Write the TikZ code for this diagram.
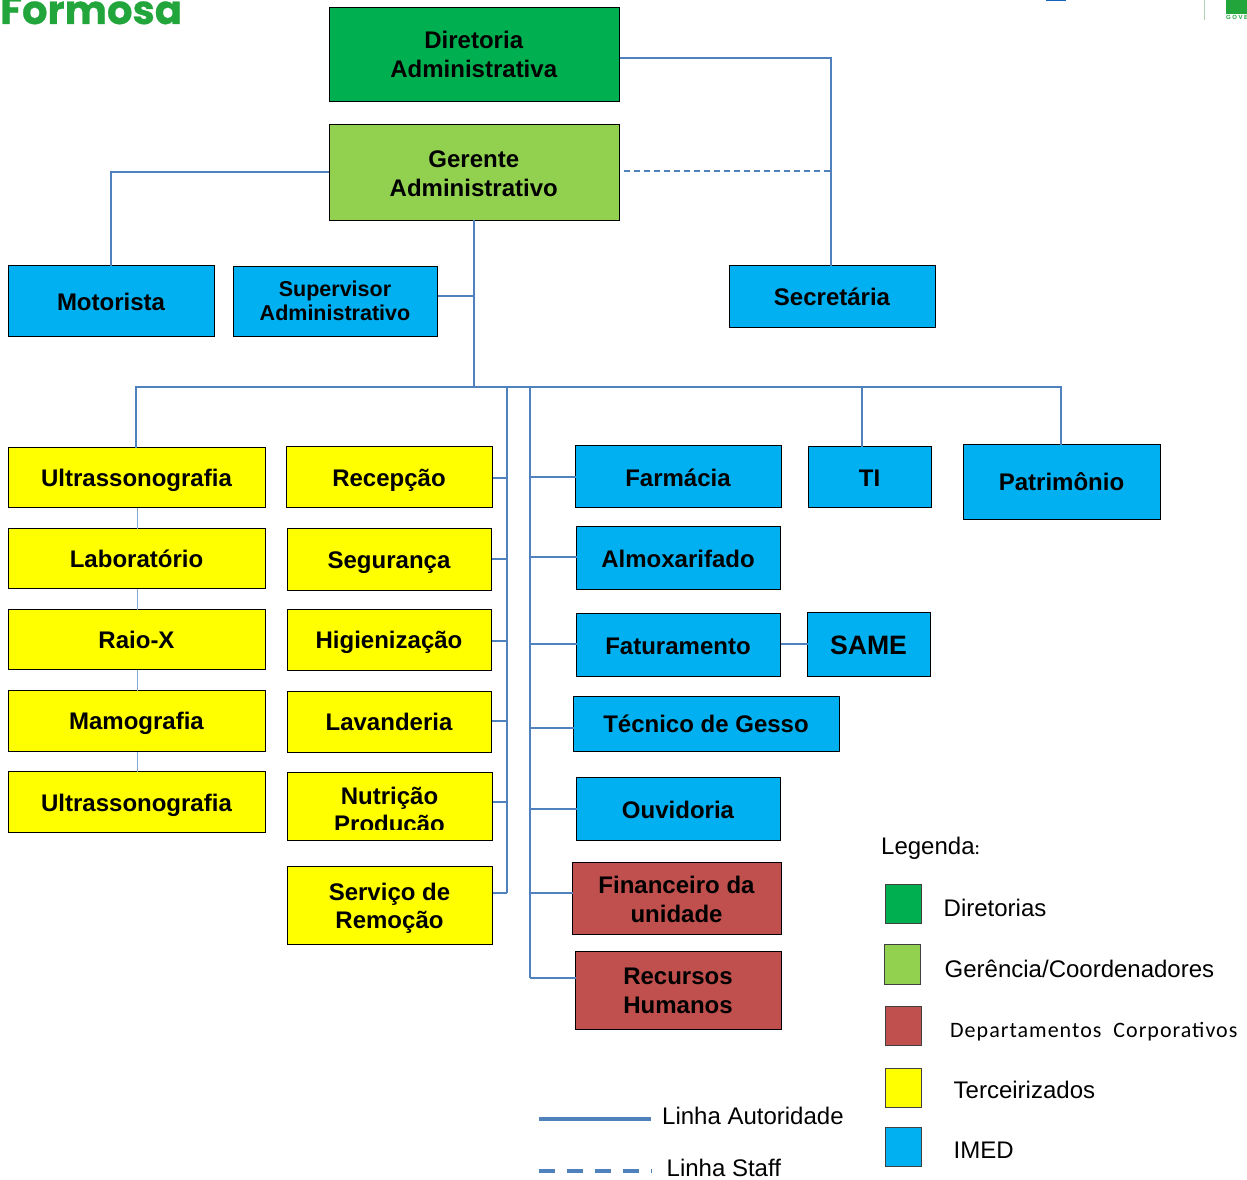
\documentclass[tikz,border=0pt]{standalone}
\usepackage{fontspec}
\setmainfont{Liberation Sans}
\newfontfamily\calfont{Carlito}
\newfontfamily\logofont[FakeBold=0.6]{Poppins}
\definecolor{linec}{HTML}{4F81BD}
\definecolor{imed}{HTML}{00B0F0}
\definecolor{corp}{HTML}{C0504D}
\definecolor{dirc}{HTML}{00B050}
\definecolor{gerc}{HTML}{92D050}
\definecolor{logoc}{HTML}{22A63C}
\definecolor{terc}{HTML}{FFFF00}
\definecolor{logob}{HTML}{1565C0}
\tikzset{
  boxn/.style={draw=black,line width=1pt,inner sep=0pt,outer sep=0pt,align=center,text=black,
    font=\fontsize{24}{28.5}\selectfont\bfseries},
  auth/.style={draw=linec,line width=1.8pt},
  staff/.style={auth,dash pattern=on 6pt off 4pt},
  thinl/.style={draw=linec!70,line width=1.2pt},
  swatch/.style={draw=black!75,line width=0.8pt,inner sep=0pt,outer sep=0pt},
  legt/.style={inner sep=0pt,anchor=base west,font=\fontsize{24}{28}\selectfont},
}
% name, x1, y1, x2, y2, options, text, text shift down
\newcommand{\bxn}[8]{%
  \pgfmathsetmacro{\bw}{#4-#2-1}\pgfmathsetmacro{\bh}{#5-#3}%
  \pgfmathsetmacro{\bcx}{(#2+#4)/2}\pgfmathsetmacro{\bcy}{(#3+#5)/2+0.5}%
  \node[boxn,minimum width=\bw pt,minimum height=\bh pt,#6] (#1) at (\bcx,\bcy) {\hspace*{-1pt}\raisebox{0pt}[\dimexpr\height+#8pt-0.5pt\relax][\dimexpr\depth-#8pt+0.5pt\relax]{\begin{tabular}{@{}c@{}}#7\end{tabular}}};}
\renewcommand{\arraystretch}{1}
\setlength{\tabcolsep}{0pt}
\begin{document}
\begin{tikzpicture}[x=1pt,y=-1pt]
\useasboundingbox (0,0) rectangle (1247,1180);
\begin{scope}
\clip (0,0) rectangle (1247,1180);
\node[inner sep=0pt,anchor=base west,text=logoc,font=\fontsize{40}{40}\selectfont\logofont\bfseries] (logo) at (0,24) {Formosa};
\fill[logob] (1046,0) rectangle (1066,1.5);
\draw[green!40!black!30,line width=1pt] (1204,0) -- (1204,20);
\fill[logoc] (1226,0) rectangle (1247,14);
\node[inner sep=0pt,anchor=base west,text=logoc,font=\fontsize{6}{6}\selectfont\bfseries\addfontfeatures{LetterSpace=25}] (gov) at (1226,20) {GOVE};
\end{scope}

% boxes
\bxn{dir}{328.5}{7}{620}{101}{fill=dirc}{Diretoria\\Administrativa}{3.5}
\bxn{ger}{328.5}{124.5}{620}{219.5}{fill=gerc}{Gerente\\Administrativo}{4.5}
\bxn{mot}{8}{265}{215}{336}{fill=imed}{Motorista}{4}
\bxn{sup}{233}{266}{438}{336}{fill=imed,font=\fontsize{21.5}{24}\selectfont\bfseries}{Supervisor\\Administrativo}{3}
\bxn{sec}{729}{265}{936}{327}{fill=imed}{Secretária}{4}
\bxn{ua}{8}{447}{266}{507}{fill=terc}{Ultrassonografia}{4}
\bxn{lab}{8}{528}{266}{588}{fill=terc}{Laboratório}{4}
\bxn{rx}{8}{609}{266}{669}{fill=terc}{Raio-X}{4}
\bxn{mam}{8}{690}{266}{751}{fill=terc}{Mamografia}{3}
\bxn{ub}{8}{771}{266}{832}{fill=terc}{Ultrassonografia}{4}
\bxn{rec}{286}{446}{493}{507}{fill=terc}{Recepção}{4}
\bxn{seg}{287}{528}{492}{590}{fill=terc}{Segurança}{4}
\bxn{hig}{287}{609}{492}{670}{fill=terc}{Higienização}{3}
\bxn{lav}{287}{691}{492}{752}{fill=terc}{Lavanderia}{3}
\bxn{nut}{287}{772}{493}{840}{fill=terc}{Nutrição\\Produção}{7}
\fill[terc] (288,829.5) rectangle (492,840);
\bxn{srv}{287}{866}{493}{944}{fill=terc}{Serviço de\\Remoção}{4}
\bxn{far}{575}{445}{782}{507}{fill=imed}{Farmácia}{5}
\bxn{alm}{576}{526}{781}{589}{fill=imed}{Almoxarifado}{4}
\bxn{fat}{576}{613}{781}{676}{fill=imed}{Faturamento}{4}
\bxn{ges}{573}{696}{840}{751}{fill=imed}{Técnico de Gesso}{3}
\bxn{ouv}{576}{777}{781}{840}{fill=imed}{Ouvidoria}{4}
\bxn{fin}{572}{862}{782}{934}{fill=corp}{Financeiro da\\unidade}{4.5}
\bxn{rh}{575}{951}{782}{1029}{fill=corp}{Recursos\\Humanos}{3.5}
\bxn{ti}{808}{446}{932}{507}{fill=imed}{TI}{4}
\bxn{pat}{963}{444}{1161}{519}{fill=imed}{Patrimônio}{3}
\bxn{same}{807}{612}{931}{676}{fill=imed,font=\fontsize{26.6}{30}\selectfont\bfseries}{SAME}{4}

% junctions
\coordinate (jdir) at (831,58);
\coordinate (jsta) at (831,171);
\coordinate (jmot) at (111,172);
\coordinate (jsup) at (474,296);
\coordinate (jmid) at (474,387);
\coordinate (jl) at (136,387);
\coordinate (jti) at (862,387);
\coordinate (jpa) at (1061,387);
\coordinate (bl) at (507,387);
\coordinate (br) at (530,387);
\coordinate (blend) at (507,893);
\coordinate (brend) at (530,978);

% connectors
\draw[auth] (dir.east |- jdir) -- (jdir) -- (jdir |- sec.north);
\draw[staff] (ger.east |- jsta) ++(4,0) -- (jsta);
\draw[auth] (ger.west |- jmot) -- (jmot) -- (jmot |- mot.north);
\draw[auth] (jmid |- ger.south) -- (jmid);
\draw[auth] (sup.east |- jsup) -- (jsup);
\draw[auth] (jl |- ua.north) -- (jl) -- (jpa) -- (jpa |- pat.north);
\draw[auth] (jti) -- (jti |- ti.north);
\draw[auth] (bl) -- (blend);
\draw[auth] (br) -- (brend);
\foreach \n/\yy in {rec/478,seg/559,hig/641,lav/721,nut/802,srv/893}
  \draw[auth] (\n.east |- 0,\yy) -- (bl |- 0,\yy);
\foreach \n/\yy in {far/477,alm/557,fat/644,ges/728,ouv/809,fin/893,rh/978}
  \draw[auth] (br |- 0,\yy) -- (\n.west |- 0,\yy);
\draw[auth] (fat.east |- 0,644) -- (same.west |- 0,644);
\draw[thinl] (ua.south -| 137.5,0) -- (lab.north -| 137.5,0);
\draw[thinl] (lab.south -| 137.5,0) -- (rx.north -| 137.5,0);
\draw[thinl] (rx.south -| 137.5,0) -- (mam.north -| 137.5,0);
\draw[thinl] (mam.south -| 137.5,0) -- (ub.north -| 137.5,0);

% legend
\node[legt] (lg) at (881,854) {Legenda{\calfont\fontsize{20}{24}\selectfont:}};
\node[swatch,fill=dirc,minimum width=36pt,minimum height=39pt] (s1) at (903.25,903.5) {};
\node[swatch,fill=gerc,minimum width=36pt,minimum height=40pt] (s2) at (902.25,964) {};
\node[swatch,fill=corp,minimum width=36pt,minimum height=39pt] (s3) at (903.25,1025.5) {};
\node[swatch,fill=terc,minimum width=36pt,minimum height=39pt] (s4) at (903.25,1087.5) {};
\node[swatch,fill=imed,minimum width=36pt,minimum height=39pt] (s5) at (903.25,1146.5) {};
\node[legt] (l1) at (943.5,916) {Diretorias};
\node[legt] (l2) at (944.5,977) {Gerência/Coordenadores};
\node[legt,font=\fontsize{22}{26}\selectfont\calfont\addfontfeatures{LetterSpace=4.6}] (l3) at (950,1037) {Departamentos\ \ Corporativos};
\node[legt] (l4) at (953.5,1098) {Terceirizados};
\node[legt] (l5) at (953.5,1158) {IMED};
\node[legt] (la) at (662,1124) {Linha Autoridade};
\node[legt] (lb) at (666.5,1176) {Linha Staff};
\coordinate (a1) at (539,1119);
\coordinate (b1) at (539,1171);
\draw[draw=linec,line width=3.5pt] (a1) -- ++(112,0);
\draw[draw=linec,line width=3.5pt,dash pattern=on 16pt off 12pt] (b1) -- ++(113,0);
\end{tikzpicture}
\end{document}
